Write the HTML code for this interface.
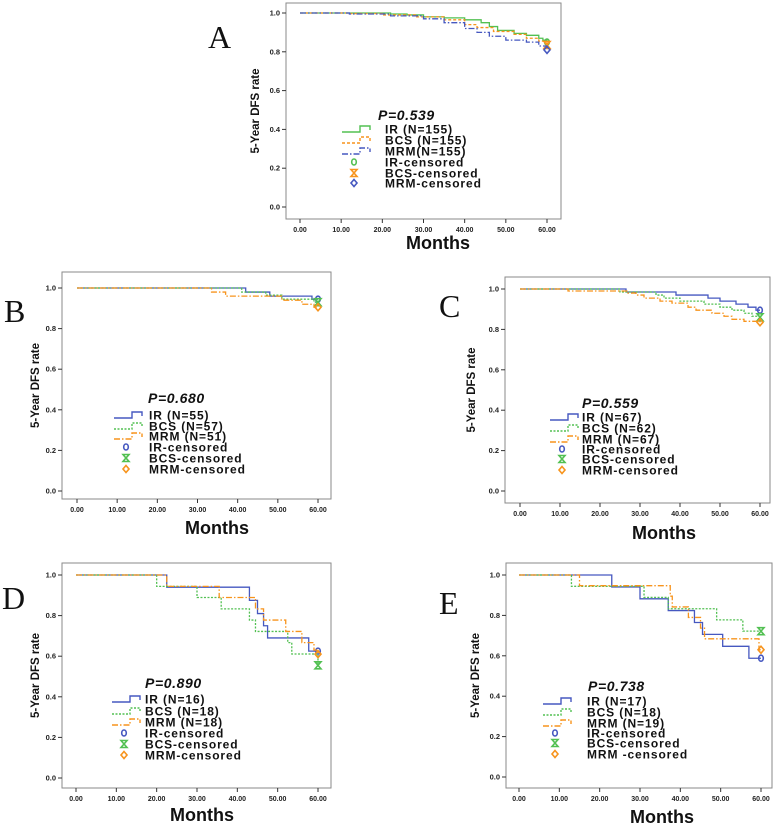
<!DOCTYPE html>
<html><head><meta charset="utf-8"><style>
html,body{margin:0;padding:0;background:#fff;}
svg{display:block;font-family:"Liberation Sans",Arial,sans-serif;}
</style></head><body>
<svg id="fig" width="777" height="827" viewBox="0 0 777 827"></svg>
<script>
// ---- data (months, survival) ----
const xTicks=[0,10,20,30,40,50,60];
const xTickLabels=["0.00","10.00","20.00","30.00","40.00","50.00","60.00"];
const yTicks=[0,0.2,0.4,0.6,0.8,1.0];
const yTickLabels=["0.0","0.2","0.4","0.6","0.8","1.0"];

const A_IR_t=[0,22,26,30,35,40,44,46,48,52,55,58,59,60];
const A_IR_s=[1,0.995,0.99,0.98,0.975,0.965,0.95,0.93,0.91,0.895,0.885,0.87,0.86,0.85];
const A_BCS_t=[0,12,20,28,35,40,43,47,52,55,58,60];
const A_BCS_s=[1,0.997,0.99,0.98,0.965,0.94,0.925,0.905,0.89,0.87,0.855,0.835];
const A_MRM_t=[0,12,22,30,35,40,43,46,50,55,58,60];
const A_MRM_s=[1,0.995,0.985,0.97,0.95,0.92,0.9,0.88,0.86,0.85,0.83,0.81];

const B_IR_t=[0,42,48,58.5,60];
const B_IR_s=[1,0.98,0.96,0.945,0.945];
const B_BCS_t=[0,41,47,51,59,60];
const B_BCS_s=[1,0.98,0.965,0.945,0.93,0.93];
const B_MRM_t=[0,33.5,37,51,56,59,60];
const B_MRM_s=[1,0.98,0.96,0.94,0.92,0.905,0.905];

const C_IR_t=[0,26.5,39,47,50,54,57,59,60];
const C_IR_s=[1,0.985,0.97,0.955,0.94,0.925,0.91,0.895,0.895];
const C_BCS_t=[0,25,34,36,40,46,50,53,56,58,60];
const C_BCS_s=[1,0.985,0.97,0.955,0.94,0.925,0.91,0.895,0.88,0.865,0.86];
const C_MRM_t=[0,12,27,29,31,35,38,42,44,48,51,53,56,60];
const C_MRM_s=[1,0.99,0.98,0.97,0.955,0.94,0.93,0.91,0.895,0.88,0.865,0.85,0.84,0.835];

const D_IR_t=[0,22.5,43,45,46.5,47.5,57.7,60];
const D_IR_s=[1,0.94,0.875,0.81,0.75,0.69,0.625,0.625];
const D_BCS_t=[0,20,30,36,43,44.5,52.5,53.5,60];
const D_BCS_s=[1,0.944,0.889,0.833,0.778,0.722,0.667,0.611,0.555];
const D_MRM_t=[0,22.5,35.5,44.5,46.5,52,56,59,60];
const D_MRM_s=[1,0.944,0.889,0.833,0.778,0.722,0.667,0.63,0.61];

const E_IR_t=[0,23,30,37,43.5,45.5,50.5,57,60];
const E_IR_s=[1,0.941,0.882,0.824,0.765,0.706,0.647,0.588,0.588];
const E_BCS_t=[0,13,31,37,49,55.5,60];
const E_BCS_s=[1,0.944,0.889,0.833,0.778,0.722,0.722];
const E_MRM_t=[0,15,37.5,38,42,45,46,59.5,60];
const E_MRM_s=[1,0.947,0.895,0.842,0.79,0.737,0.684,0.63,0.63];

const GREEN="#52c052",ORANGE="#f7941d",BLUE="#4658c0";
const NS="http://www.w3.org/2000/svg";
const svg=document.getElementById('fig');
function mk(tag,attrs,parent,txt){const e=document.createElementNS(NS,tag);for(const k in attrs)e.setAttribute(k,attrs[k]);if(txt!==undefined)e.textContent=txt;(parent||svg).appendChild(e);return e;}

function marker(g,kind,x,y,color){
  let m;
  if(kind==='circle'){m=mk('ellipse',{cx:x,cy:y,rx:2.3,ry:3,fill:'none',stroke:color,'stroke-width':1.6},g);}
  else if(kind==='hour'){m=mk('path',{d:`M${x-3},${y-3.5}H${x+3}L${x-3},${y+3.5}H${x+3}Z`,fill:'none',stroke:color,'stroke-width':1.6},g);}
  else {m=mk('path',{d:`M${x},${y-3.5}L${x+3},${y}L${x},${y+3.5}L${x-3},${y}Z`,fill:'none',stroke:color,'stroke-width':1.6},g);}
  return m;
}

function panel(c){
  const g=mk('g',{},svg);
  
  
  const sx=v=>c.x0+(c.x60-c.x0)*v/60;
  const sy=v=>c.y0+(c.y1-c.y0)*v;
  const fr=mk('rect',{x:c.fl,y:c.ft,width:c.fr-c.fl,height:c.fb-c.ft,fill:'none',stroke:'#8a8a8a','stroke-width':1},g);
  
  const lt=mk('text',{x:c.lx,y:c.ly,'font-family':'"Liberation Serif",serif','font-size':32,fill:'#111'},g,c.letter);
  
  yTicks.forEach((v,i)=>{
    mk('line',{x1:c.fl-4,x2:c.fl,y1:sy(v),y2:sy(v),stroke:'#333','stroke-width':1},g);
    const t=mk('text',{x:c.fl-6,y:sy(v)+2.5,'text-anchor':'end','font-size':7.5,'font-weight':'bold',fill:'#222'},g,yTickLabels[i]);
    
  });
  xTicks.forEach((v,i)=>{
    mk('line',{x1:sx(v),x2:sx(v),y1:c.fb,y2:c.fb+4,stroke:'#333','stroke-width':1},g);
    const t=mk('text',{x:sx(v),y:c.fb+13,'text-anchor':'middle','font-size':7,'font-weight':'bold',fill:'#222'},g,xTickLabels[i]);
    
  });
  const yt=mk('text',{x:0,y:0,transform:`translate(${c.ytx},${(c.ft+c.fb)/2}) rotate(-90)`,'text-anchor':'middle','font-size':11.5,'font-weight':'bold',fill:'#111'},g,'5-Year DFS rate');
  
  const xt=mk('text',{x:c.mx,y:c.my,'text-anchor':'middle','font-size':18,'font-weight':'bold',fill:'#111'},g,'Months');
  
  c.series.forEach(s=>{
    let d=`M${sx(s.t[0])},${sy(s.s[0])}`;
    for(let i=1;i<s.t.length;i++){d+=`H${sx(s.t[i])}V${sy(s.s[i])}`;}
    const p=mk('path',{d:d,fill:'none',stroke:s.color,'stroke-width':1.3,'stroke-dasharray':s.dash},g);
    
    const n=s.t.length-1;
    const m=marker(g,s.mk,sx(s.t[n]),sy(s.s[n]),s.mcolor);
    
  });
  const pt=mk('text',{x:c.px,y:c.py,'font-size':14,'font-weight':'bold','font-style':'italic','letter-spacing':0.6,fill:'#111'},g,c.p);
  
  c.series.forEach((s,i)=>{
    const y=c.rows[i];
    const lg=mk('path',{d:`M${c.lgx},${y+3}H${c.lgx+18}V${y-3}H${c.lgx+28}V${y+1}`,fill:'none',stroke:s.color,'stroke-width':1.4,'stroke-dasharray':s.dash},g);
    
    const t=mk('text',{x:c.tx,y:y+4.5,'font-size':12,'font-weight':'bold','letter-spacing':0.9,fill:'#111'},g,s.label);
    
  });
  c.series.forEach((s,i)=>{
    const y=c.rows[3+i];
    marker(g,s.mk,c.lgx+12,y,s.mcolor);
    const t=mk('text',{x:c.tx,y:y+4.5,'font-size':12,'font-weight':'bold','letter-spacing':0.9,fill:'#111'},g,c.cens[i]);
    
  });
}
const SOLID='none',DOT='2,1.5',DASHDOT='6,2,1.5,2',DASH='3,2';
function std(ir,bcs,mrm,n){return[
 {key:'ir',t:ir[0],s:ir[1],color:BLUE,mcolor:BLUE,dash:SOLID,mk:'circle',label:n[0]},
 {key:'bcs',t:bcs[0],s:bcs[1],color:GREEN,mcolor:GREEN,dash:DOT,mk:'hour',label:n[1]},
 {key:'mrm',t:mrm[0],s:mrm[1],color:ORANGE,mcolor:ORANGE,dash:DASHDOT,mk:'diamond',label:n[2]}];}
const cens=['IR-censored','BCS-censored','MRM-censored'];

panel({letter:'A',fl:286,ft:3,fr:561,fb:219,x0:300,x60:547,y1:13,y0:207,lx:208,ly:48,ytx:259,mx:438,my:249,
 px:378,py:120,rows:[129,140,151,162,173,183],lgx:342,tx:385,p:'P=0.539',cens:cens,
 series:[
 {key:'ir',t:A_IR_t,s:A_IR_s,color:GREEN,mcolor:GREEN,dash:SOLID,mk:'circle',label:'IR (N=155)'},
 {key:'bcs',t:A_BCS_t,s:A_BCS_s,color:ORANGE,mcolor:ORANGE,dash:DASH,mk:'hour',label:'BCS (N=155)'},
 {key:'mrm',t:A_MRM_t,s:A_MRM_s,color:BLUE,mcolor:BLUE,dash:DASHDOT,mk:'diamond',label:'MRM(N=155)'}]});
panel({letter:'B',fl:62,ft:272,fr:331,fb:499,x0:77,x60:318,y1:288,y0:491,lx:4,ly:322,ytx:39,mx:217,my:534,
 px:148,py:403,rows:[415,426,436,447,458,469],lgx:114,tx:149,p:'P=0.680',cens:cens,
 series:std([B_IR_t,B_IR_s],[B_BCS_t,B_BCS_s],[B_MRM_t,B_MRM_s],['IR (N=55)','BCS (N=57)','MRM (N=51)'])});
panel({letter:'C',fl:505,ft:277,fr:770,fb:503,x0:520,x60:760,y1:289,y0:491,lx:439,ly:317,ytx:475,mx:664,my:539,
 px:582,py:408,rows:[417,428,439,449,459,470],lgx:550,tx:582,p:'P=0.559',cens:cens,
 series:std([C_IR_t,C_IR_s],[C_BCS_t,C_BCS_s],[C_MRM_t,C_MRM_s],['IR (N=67)','BCS (N=62)','MRM (N=67)'])});
panel({letter:'D',fl:62,ft:563,fr:331,fb:788,x0:76,x60:318,y1:575,y0:778,lx:2,ly:609,ytx:39,mx:202,my:821,
 px:145,py:688,rows:[699,711,722,733,744,755],lgx:112,tx:145,p:'P=0.890',cens:cens,
 series:std([D_IR_t,D_IR_s],[D_BCS_t,D_BCS_s],[D_MRM_t,D_MRM_s],['IR (N=16)','BCS (N=18)','MRM (N=18)'])});
panel({letter:'E',fl:506,ft:563,fr:772,fb:788,x0:519,x60:761,y1:575,y0:777,lx:439,ly:614,ytx:479,mx:662,my:823,
 px:588,py:691,rows:[701,712,723,733,743,754],lgx:543,tx:587,p:'P=0.738',cens:['IR-censored','BCS-censored','MRM -censored'],
 series:std([E_IR_t,E_IR_s],[E_BCS_t,E_BCS_s],[E_MRM_t,E_MRM_s],['IR (N=17)','BCS (N=18)','MRM (N=19)'])});
</script>
</body></html>
